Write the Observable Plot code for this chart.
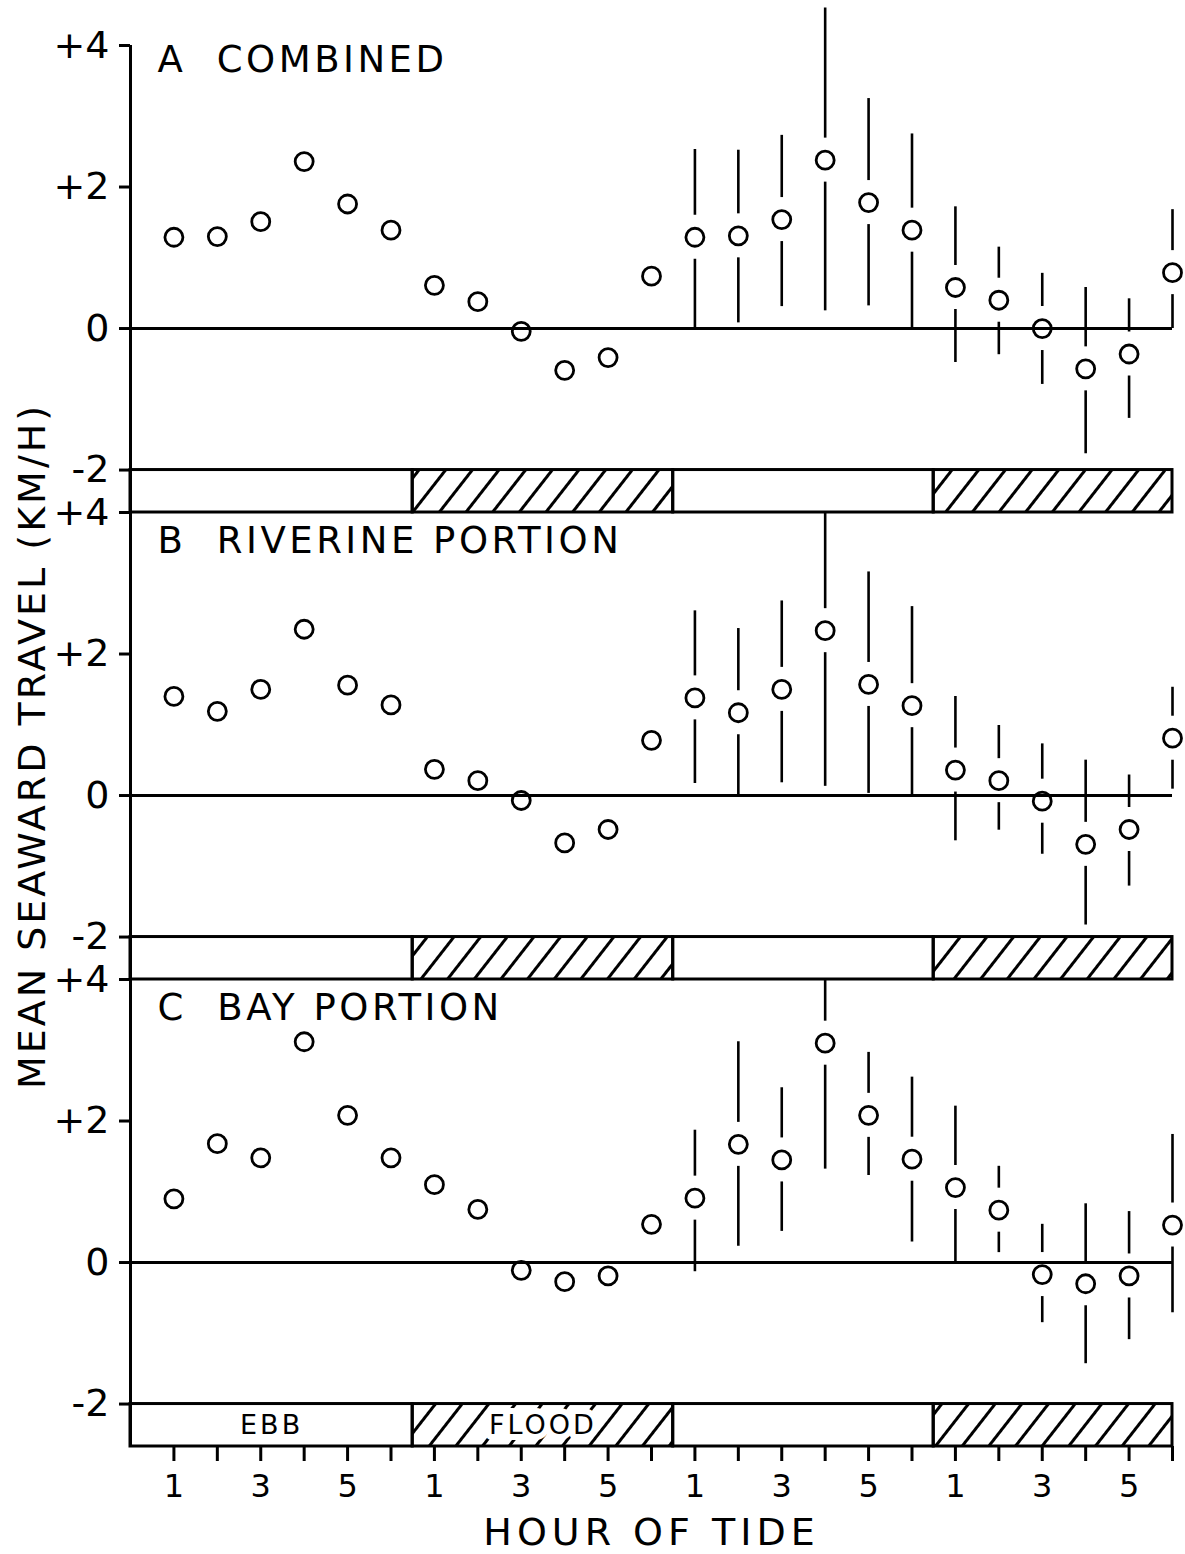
<!DOCTYPE html>
<html>
<head>
<meta charset="utf-8">
<script src="https://cdn.jsdelivr.net/npm/d3@7"></script>
<script src="https://cdn.jsdelivr.net/npm/@observablehq/plot@0.6"></script>
<style>
  body { margin: 0; background: white; }
  #chart svg { font-family: "DejaVu Sans", sans-serif; }
  #chart g[aria-label^="y-axis"] line, #chart g[aria-label^="y-axis"] path { stroke-width: 3px; }
  #chart g[aria-label^="x-axis"] line, #chart g[aria-label^="x-axis"] path { stroke-width: 3px; }
  #chart g[aria-label^="x-axis"] text { font-size: 32px; }
  #chart g[aria-label^="y-axis"] text { font-size: 38px; }
</style>
</head>
<body>
<div id="chart"></div>
<script>
// ---------------- data ----------------
const hours = d3.range(1, 25);
const hourLabels = ["1","","3","","5","", "1","","3","","5","", "1","","3","","5","", "1","","3","","5",""];

const panels = ["A", "B", "C"];
const panelTitles = ["A  COMBINED", "B  RIVERINE PORTION", "C  BAY PORTION"];

// mean seaward travel (km/h), hours 1..24
const meanA = [1.29, 1.30, 1.51, 2.36, 1.76, 1.39, 0.61, 0.38, -0.04, -0.59, -0.41, 0.74,
               1.29, 1.31, 1.54, 2.38, 1.78, 1.39, 0.58, 0.40, 0.00, -0.57, -0.36, 0.79];
const meanB = [1.40, 1.19, 1.50, 2.35, 1.56, 1.28, 0.37, 0.21, -0.07, -0.67, -0.48, 0.78,
               1.38, 1.17, 1.50, 2.33, 1.57, 1.27, 0.36, 0.21, -0.08, -0.69, -0.48, 0.81];
const meanC = [0.90, 1.68, 1.48, 3.12, 2.08, 1.48, 1.10, 0.75, -0.11, -0.27, -0.19, 0.54,
               0.91, 1.67, 1.45, 3.10, 2.08, 1.46, 1.06, 0.74, -0.17, -0.30, -0.19, 0.53];

// range bars, hours 13..24
const errHours = d3.range(13, 25);
const loA = [0.00, 0.08, 0.31, 0.25, 0.32, 0.00, -0.48, -0.37, -0.79, -1.77, -1.27, 0.00];
const hiA = [2.53, 2.52, 2.73, 4.53, 3.25, 2.75, 1.72, 1.15, 0.78, 0.58, 0.42, 1.68];
const loB = [0.17, 0.00, 0.18, 0.13, 0.03, 0.00, -0.64, -0.49, -0.83, -1.83, -1.28, 0.09];
const hiB = [2.61, 2.36, 2.75, 4.00, 3.16, 2.67, 1.40, 0.99, 0.73, 0.50, 0.29, 1.53];
const loC = [-0.13, 0.23, 0.44, 1.32, 1.23, 0.29, 0.00, 0.14, -0.85, -1.43, -1.09, -0.71];
const hiC = [1.87, 3.12, 2.47, 4.00, 2.97, 2.62, 2.21, 1.36, 0.54, 0.83, 0.72, 1.81];

const yTickValues = [4, 2, 0, -2];
const yTickLabels = ["+4", "+2", "0", "-2"];

const tidePhases = ["EBB", "FLOOD", "EBB", "FLOOD"];
const tideStart = [0, 6.5, 12.5, 18.5];
const tideEnd = [6.5, 12.5, 18.5, 24];

const yAxisTitle = "MEAN SEAWARD TRAVEL (KM/H)";
const xAxisTitle = "HOUR OF TIDE";

// ---------------- layout ----------------
const W = 1185, H = 1554;
const MT = 45, MB = 108, ML = 130, MR = 13;
const PANEL_SPAN = 6.6;      // data units per panel (incl. tide bar)
const BAR_TOP = -2, BAR_BOTTOM = -2.6;
const yMax = 4, yMin = yMax - 3 * PANEL_SPAN;
const pxPerUnit = (H - MT - MB) / (yMax - yMin);
const GAP = 22 / pxPerUnit;  // gap around circles on range bars
const titleY = [3.79, 3.6, 3.6];

const offset = (i) => -i * PANEL_SPAN;
const means = [meanA, meanB, meanC];
const los = [loA, loB, loC];
const his = [hiA, hiB, hiC];

const points = panels.flatMap((p, i) => hours.map((h, j) => ({panel: p, hour: h, y: means[i][j] + offset(i)})));
const errs = panels.flatMap((p, i) => errHours.map((h, j) => ({
  panel: p, hour: h,
  lo: los[i][j] + offset(i), hi: his[i][j] + offset(i),
  mean: means[i][h - 1] + offset(i)
})));
const tideRows = panels.flatMap((p, i) => tidePhases.map((ph, k) => ({
  panel: p, phase: ph, x1: tideStart[k], x2: tideEnd[k],
  y1: BAR_TOP + offset(i), y2: BAR_BOTTOM + offset(i)
})));
const tideLabels = tidePhases.slice(0, 2).map((ph, k) => ({
  text: ph, x: (tideStart[k] + tideEnd[k]) / 2, y: (BAR_TOP + BAR_BOTTOM) / 2 + offset(2)
}));
const titles = panels.map((p, i) => ({text: panelTitles[i], y: titleY[i] + offset(i)}));
const zeroRows = panels.map((p, i) => ({y: offset(i)}));

const allTicks = [], tickLabelMap = new Map();
panels.forEach((p, i) => yTickValues.forEach((v, k) => {
  const t = v + offset(i);
  allTicks.push(t);
  tickLabelMap.set(t, yTickLabels[k]);
}));

const chart = Plot.plot({
  width: W, height: H,
  marginTop: MT, marginBottom: MB, marginLeft: ML, marginRight: MR,
  style: {fontFamily: "DejaVu Sans, sans-serif", fontSize: "38px", background: "white", color: "black"},
  x: {domain: [0, 24], ticks: hours, tickFormat: (d) => hourLabels[d - 1], tickSize: 15, tickPadding: 13, label: null},
  y: {domain: [yMin, yMax], ticks: allTicks, tickFormat: (d) => tickLabelMap.get(d) ?? "", tickSize: 11, tickPadding: 10, label: null},
  marks: [
    // tide bars
    Plot.rect(tideRows.filter(d => d.phase === "EBB"), {x1: "x1", x2: "x2", y1: "y1", y2: "y2", fill: "white", stroke: "black", strokeWidth: 3}),
    Plot.rect(tideRows.filter(d => d.phase === "FLOOD"), {x1: "x1", x2: "x2", y1: "y1", y2: "y2", fill: "url(#hatch)", stroke: "black", strokeWidth: 3}),
    Plot.text(tideLabels, {x: "x", y: "y", text: "text", fontSize: 27, fill: "black", stroke: "white", strokeWidth: 12, paintOrder: "stroke"}),
    // y axis line and zero lines
    Plot.ruleX([0], {stroke: "black", strokeWidth: 3}),
    Plot.ruleY(zeroRows, {y: "y", stroke: "black", strokeWidth: 3}),
    // range bars with gaps around the circles
    Plot.ruleX(errs.filter(d => d.hi > d.mean + GAP), {x: "hour", y1: "hi", y2: d => d.mean + GAP, stroke: "black", strokeWidth: 2.6}),
    Plot.ruleX(errs.filter(d => d.lo < d.mean - GAP), {x: "hour", y1: d => d.mean - GAP, y2: "lo", stroke: "black", strokeWidth: 2.6}),
    // means
    Plot.dot(points, {x: "hour", y: "y", r: 9, stroke: "black", strokeWidth: 2.8, fill: "none"}),
    // panel titles
    Plot.text(titles, {x: () => 0.62, y: "y", text: "text", textAnchor: "start", fontSize: 37, fill: "black"}),
    // axis titles
    Plot.text([yAxisTitle], {frameAnchor: "left", textAnchor: "middle", lineAnchor: "middle", dx: -98, rotate: -90, fontSize: 38, fill: "black"}),
    Plot.text([xAxisTitle], {frameAnchor: "bottom", textAnchor: "middle", lineAnchor: "middle", dy: 86, fontSize: 38, fill: "black"})
  ]
});

const ns = "http://www.w3.org/2000/svg";
const defs = document.createElementNS(ns, "defs");
defs.innerHTML = '<pattern id="hatch" patternUnits="userSpaceOnUse" width="21" height="21" patternTransform="rotate(38)">' +
  '<line x1="10.5" y1="-2" x2="10.5" y2="23" stroke="black" stroke-width="3"/></pattern>';
chart.insertBefore(defs, chart.firstChild);

// letter spacing of the hand-lettered titles
const spacing = new Map([[yAxisTitle, 3], [xAxisTitle, 5], ["EBB", 3], ["FLOOD", 3]]);
panelTitles.forEach(t => spacing.set(t, 3.5));
chart.querySelectorAll("text").forEach(el => {
  const s = spacing.get(el.textContent);
  if (s != null) { el.setAttribute("letter-spacing", s); el.style.letterSpacing = s + "px"; }
});
document.getElementById("chart").appendChild(chart);
</script>
</body>
</html>
